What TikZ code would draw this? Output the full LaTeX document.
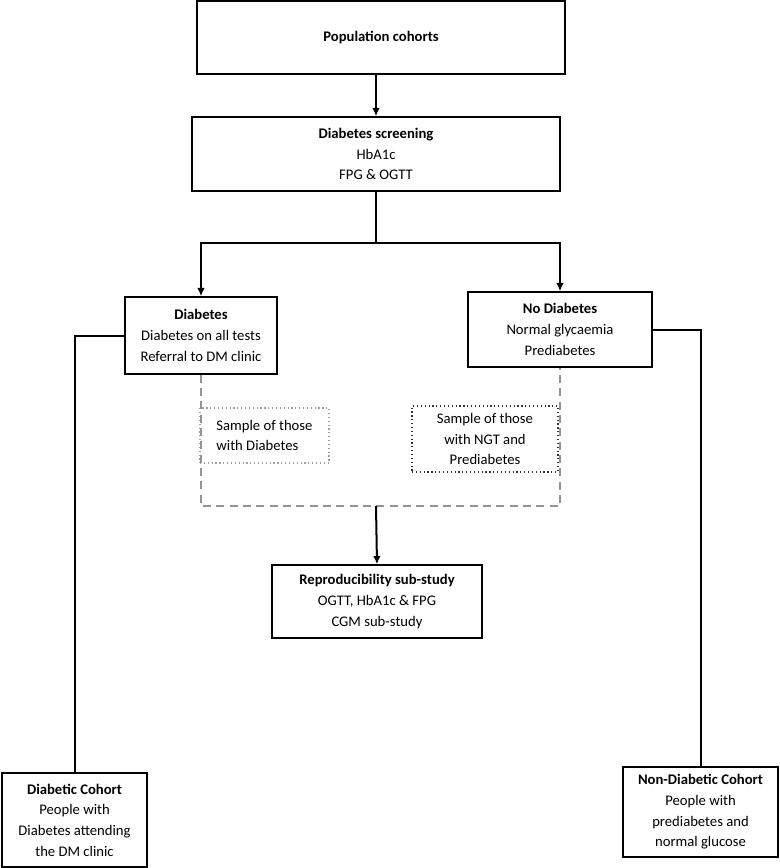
\documentclass[tikz,border=0pt]{standalone}
\usepackage{fontspec}
\setmainfont{Carlito}
\usepackage{xcolor}
\usepackage{tikz}
\usetikzlibrary{arrows.meta, positioning}

\begin{document}
\begin{tikzpicture}[x=0.75pt, y=-0.75pt, >={Latex[length=2.2mm, width=2mm]},
        box/.style={rectangle, draw, line width=1pt, align=center, inner sep=2pt, font=\fontsize{11}{15.5}\selectfont},
        sample/.style={rectangle, draw, dotted, line width=0.9pt, inner sep=2pt, font=\fontsize{11}{15.5}\selectfont},
        link/.style={line width=1.5pt},
        sublink/.style={line width=1.3pt, color=gray!85, dash pattern=on 6pt off 4pt}]

        \useasboundingbox (0,0) rectangle (779,868);

        % Nodes
        \node[box, minimum width=276pt, minimum height=54.75pt] (pop) at (381,37.5) {\textbf{Population cohorts}};
        \node[box, minimum width=276pt, minimum height=55.5pt] (screen) at (376,154) {\textbf{Diabetes screening}\\HbA1c\\FPG \& OGTT};
        \node[box, minimum width=114pt, minimum height=57.75pt] (diab) at (201,335.5) {\textbf{Diabetes}\\Diabetes on all tests\\Referral to DM clinic};
        \node[box, minimum width=138pt, minimum height=56.25pt] (nodiab) at (560,329.5) {\textbf{No Diabetes}\\Normal glycaemia\\Prediabetes};
        \node[sample, color=gray!75, text=black, align=left, minimum width=96.75pt, minimum height=41.25pt] (samp1) at (264.5,435.5) {Sample of those\\with Diabetes};
        \node[sample, color=black!80, text=black, align=center, minimum width=109.5pt, minimum height=49.5pt] (samp2) at (485,439) {Sample of those\\with NGT and\\Prediabetes};
        \node[box, minimum width=157.5pt, minimum height=54.75pt] (repro) at (377,601.5) {\textbf{Reproducibility sub-study}\\OGTT, HbA1c \& FPG\\CGM sub-study};
        \node[box, minimum width=108.75pt, minimum height=70.5pt] (dcoh) at (74.5,820) {\textbf{Diabetic Cohort}\\People with\\Diabetes attending\\the DM clinic};
        \node[box, minimum width=116.25pt, minimum height=67.5pt] (ndcoh) at (700.5,812) {\textbf{Non-Diabetic Cohort}\\People with\\prediabetes and\\normal glucose};

        \coordinate (split) at (376,243);
        \coordinate (merge) at (376,506);

        % Edges
        \draw[->, link] (screen.north |- pop.south) -- (screen.north);
        \draw[link] (screen.south) -- (split);
        \draw[->, link] (split) -| (diab.north);
        \draw[->, link] (split) -| (nodiab.north);
        \draw[link] (diab.west) -| (dcoh.north);
        \draw[link] (nodiab.east) -| (ndcoh.north);
        \draw[sublink] (diab.south) |- (merge) -| (nodiab.south);
        \draw[->, link] (merge) -- (repro.north);
    \end{tikzpicture}
\end{document}
